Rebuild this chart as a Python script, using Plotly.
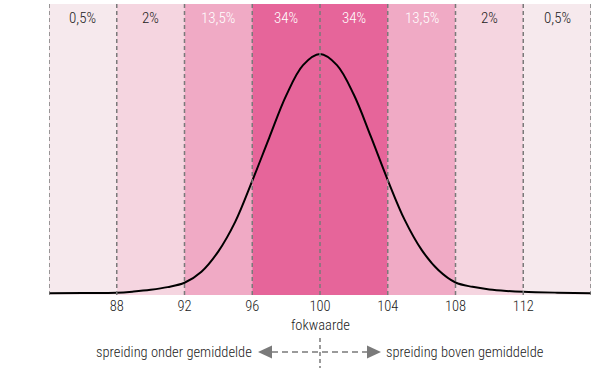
import plotly.graph_objects as go

# ---- data ----
band_edges = [84, 88, 92, 96, 100, 104, 108, 112, 116]
band_labels = ["0,5%", "2%", "13,5%", "34%", "34%", "13,5%", "2%", "0,5%"]
band_colors = ["#f6e9ed", "#f5d5e0", "#f0aac5", "#e6659a",
               "#e6659a", "#f0aac5", "#f5d5e0", "#f6e9ed"]
label_colors = ["#222222", "#222222", "#ffffff", "#ffffff",
                "#ffffff", "#ffffff", "#222222", "#222222"]

curve_x = [84, 86, 88, 89, 90, 91, 92, 93, 94, 95, 96, 97, 98, 99, 100,
           101, 102, 103, 104, 105, 106, 107, 108, 109, 110, 111, 112, 114, 116]
curve_y = [0.006, 0.007, 0.008, 0.012, 0.018, 0.027, 0.042, 0.080, 0.150, 0.252, 0.392,
           0.540, 0.685, 0.790, 0.828,
           0.790, 0.688, 0.545, 0.395, 0.258, 0.155, 0.085, 0.043, 0.028, 0.019,
           0.014, 0.011, 0.008, 0.006]

tick_vals = [88, 92, 96, 100, 104, 108, 112]
tick_text = ["88", "92", "96", "100", "104", "108", "112"]

x_title = "fokwaarde"
left_text = "spreiding onder gemiddelde"
right_text = "spreiding boven gemiddelde"

FONT = "Roboto Condensed, Liberation Sans Narrow, DejaVu Sans Condensed, sans-serif"
FW = 300
FS = 14.5
GREY = "#7a7a7a"
TXT = "#222222"

fig = go.Figure()

shapes = []
annotations = []
for i in range(len(band_labels)):
    shapes.append(dict(type="rect", xref="x", yref="paper",
                       x0=band_edges[i], x1=band_edges[i + 1], y0=0, y1=1,
                       fillcolor=band_colors[i], line=dict(width=0), layer="below"))
    annotations.append(dict(x=(band_edges[i] + band_edges[i + 1]) / 2, y=1,
                            xref="x", yref="paper", yanchor="middle",
                            yshift=-14, text=band_labels[i], showarrow=False,
                            font=dict(family=FONT, size=FS + 0.5, weight=FW, color=label_colors[i])))

for e in band_edges:
    shapes.append(dict(type="line", xref="x", yref="paper", x0=e, x1=e, y0=0, y1=1,
                       line=dict(color=GREY, width=1.5, dash="4px,3px"), layer="above"))

fig.add_trace(go.Scatter(x=curve_x, y=curve_y, mode="lines",
                         line=dict(color="black", width=2, shape="spline", smoothing=1.0),
                         hoverinfo="skip", showlegend=False))

# x title
annotations.append(dict(x=100, y=0, xref="x", yref="paper", yanchor="middle",
                        yshift=-30, text=x_title, showarrow=False,
                        font=dict(family=FONT, size=FS, weight=FW, color=TXT)))

# spread arrows (pixel-sized, anchored at mean on axis)
mean = band_edges[4]
AY = -57
shapes.append(dict(type="line", xref="x", yref="paper", xsizemode="pixel", ysizemode="pixel",
                   xanchor=mean, yanchor=0, x0=-48, x1=48, y0=AY, y1=AY,
                   line=dict(color=GREY, width=1.5, dash="6px,4px")))
shapes.append(dict(type="line", xref="x", yref="paper", xsizemode="pixel", ysizemode="pixel",
                   xanchor=mean, yanchor=0, x0=0, x1=0, y0=-43, y1=-73,
                   line=dict(color=GREY, width=1.5, dash="4px,3px")))
shapes.append(dict(type="path", xref="x", yref="paper", xsizemode="pixel", ysizemode="pixel",
                   xanchor=mean, yanchor=0,
                   path=f"M -62 {AY} L -48 {AY + 6.5} L -48 {AY - 6.5} Z",
                   fillcolor=GREY, line=dict(width=0)))
shapes.append(dict(type="path", xref="x", yref="paper", xsizemode="pixel", ysizemode="pixel",
                   xanchor=mean, yanchor=0,
                   path=f"M 61 {AY} L 47 {AY + 6.5} L 47 {AY - 6.5} Z",
                   fillcolor=GREY, line=dict(width=0)))
annotations.append(dict(x=mean, y=0, xref="x", yref="paper", xanchor="right", yanchor="middle",
                        xshift=-66, yshift=AY, text=left_text, showarrow=False,
                        font=dict(family=FONT, size=FS, weight=FW, color=TXT)))
annotations.append(dict(x=mean, y=0, xref="x", yref="paper", xanchor="left", yanchor="middle",
                        xshift=64, yshift=AY, text=right_text, showarrow=False,
                        font=dict(family=FONT, size=FS, weight=FW, color=TXT)))

fig.update_layout(
    width=600, height=373,
    margin=dict(l=49, r=9, t=4, b=78),
    paper_bgcolor="white", plot_bgcolor="white",
    shapes=shapes, annotations=annotations,
    showlegend=False,
    xaxis=dict(range=[84, 116], tickvals=tick_vals, ticktext=tick_text,
               showgrid=False, zeroline=False, showline=False, ticks="",
               tickfont=dict(family=FONT, size=FS, weight=FW, color=TXT)),
    yaxis=dict(range=[0, 1], visible=False, showgrid=False, zeroline=False),
)

fig.write_html("out.html", config={"displayModeBar": False},
               post_script="document.body.style.margin='0px';")
